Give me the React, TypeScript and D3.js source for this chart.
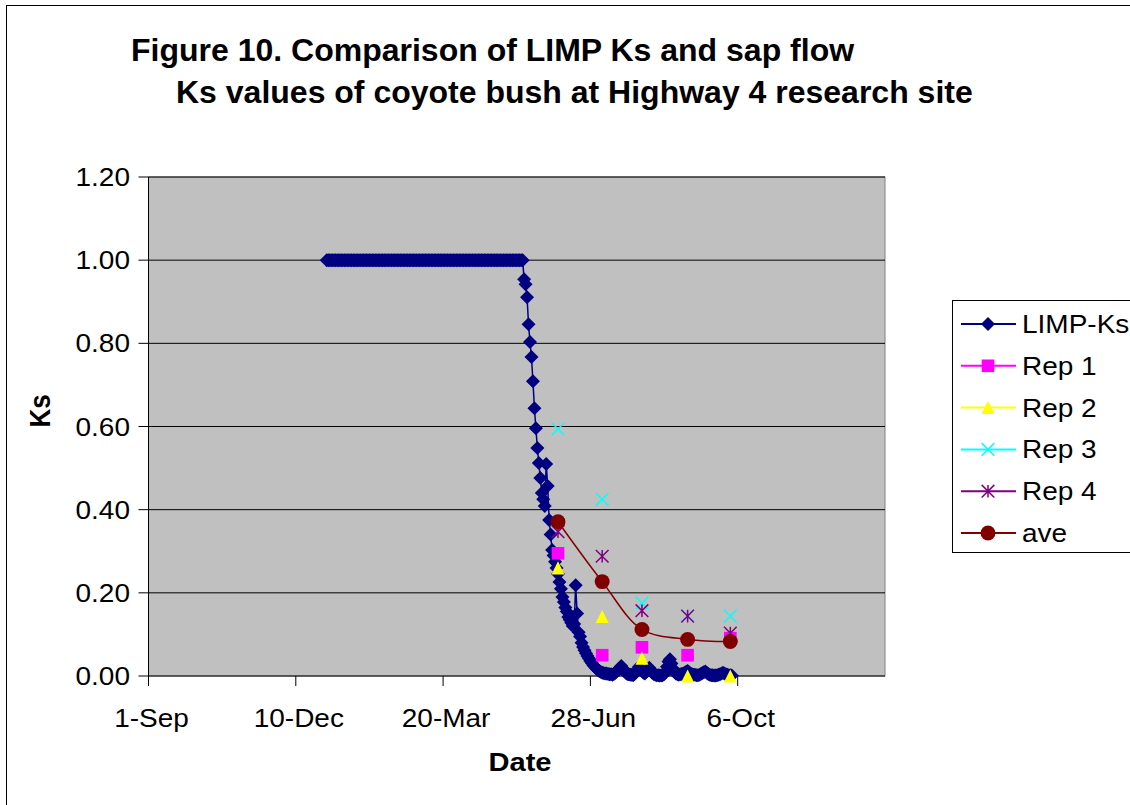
import * as d3 from 'd3'

const width = 1130
const height = 805
const plot = { left: 148.5, top: 177, right: 885, bottom: 676 }
const font = "Arial, 'Liberation Sans', sans-serif"
const stretch = 1.12 // the source image is a bit wider than it is tall

// x values are days counted from 1-Sep
const xTickDays = [0, 100, 200, 300, 400]
const xTickLabels = ['1-Sep', '10-Dec', '20-Mar', '28-Jun', '6-Oct']
const yTicks = [0, 0.2, 0.4, 0.6, 0.8, 1.0, 1.2]

// LIMP-Ks, one value per day starting at limpStartDay
const limpStartDay = 121
const limpKs = [
  1, 1, 1, 1, 1, 1, 1, 1, 1, 1, 1, 1, 1, 1, 1, 1, 1, 1, 1, 1,
  1, 1, 1, 1, 1, 1, 1, 1, 1, 1, 1, 1, 1, 1, 1, 1, 1, 1, 1, 1,
  1, 1, 1, 1, 1, 1, 1, 1, 1, 1, 1, 1, 1, 1, 1, 1, 1, 1, 1, 1,
  1, 1, 1, 1, 1, 1, 1, 1, 1, 1, 1, 1, 1, 1, 1, 1, 1, 1, 1, 1,
  1, 1, 1, 1, 1, 1, 1, 1, 1, 1, 1, 1, 1, 1, 1, 1, 1, 1, 1, 1,
  1, 1, 1, 1, 1, 1, 1, 1, 1, 1, 1, 1, 1, 1, 1, 1, 1, 1, 1, 1,
  1, 1, 1, 1, 1, 1, 1, 1, 1, 1, 1, 1, 1, 1,
  0.954, 0.942, 0.911, 0.846, 0.803, 0.767, 0.709, 0.644, 0.596, 0.548,
  0.512, 0.476, 0.44, 0.425, 0.409, 0.51, 0.457, 0.375, 0.34, 0.303,
  0.29, 0.275, 0.26, 0.245, 0.226, 0.21, 0.19, 0.178, 0.165, 0.155,
  0.142, 0.135, 0.128, 0.12, 0.125, 0.218, 0.15, 0.105, 0.095, 0.08,
  0.07, 0.062, 0.055, 0.048, 0.042, 0.036, 0.031, 0.026, 0.022, 0.018,
  0.015, 0.012, 0.01, 0.008, 0.007, 0.006,
  0.006, 0.005, 0.004, 0.004, 0.003, 0.005, 0.008, 0.012, 0.016, 0.02,
  0.024, 0.018, 0.012, 0.008, 0.005, 0.004, 0.003, 0.003, 0.002, 0.005,
  0.01, 0.016, 0.022, 0.018, 0.012, 0.008, 0.006, 0.01, 0.016, 0.02,
  0.014, 0.008, 0.005, 0.003, 0.002, 0.002, 0.001, 0.001, 0.002, 0.004,
  0.01, 0.022, 0.035, 0.04, 0.03, 0.018, 0.01, 0.006, 0.004, 0.003,
  0.004, 0.005, 0.006, 0.008, 0.01, 0.012, 0.009, 0.006, 0.004, 0.003,
  0.003, 0.002, 0.002, 0.003, 0.005, 0.007, 0.009, 0.011, 0.008, 0.005,
  0.003, 0.002, 0.002, 0.001, 0.001, 0.002, 0.003, 0.004, 0.006, 0.008,
  0.006, 0.004, 0.003, 0.002, 0.002, 0.001
]

// sap flow samples
const sampleDays = [278, 308, 335, 366, 395]
const rep1 = [0.295, 0.05, 0.069, 0.05, 0.091]
const rep2 = [0.26, 0.143, 0.043, 0.0, 0.0]
const rep3 = [0.594, 0.425, 0.175, 0.145, 0.144]
const rep4 = [0.347, 0.288, 0.157, 0.144, 0.103]
const ave = [0.371, 0.227, 0.112, 0.088, 0.083]

const legendNames = ['LIMP-Ks', 'Rep 1', 'Rep 2', 'Rep 3', 'Rep 4', 'ave']
const legendColors = ['#000080', '#FF00FF', '#FFFF00', '#00FFFF', '#800080', '#800000']

// excel style "star": an x with a vertical bar
const symbolStar = {
  draw(ctx: any, size: number) {
    const r = Math.sqrt(size) / 2
    ctx.moveTo(-r, -r); ctx.lineTo(r, r)
    ctx.moveTo(-r, r); ctx.lineTo(r, -r)
    ctx.moveTo(0, -r); ctx.lineTo(0, r)
  }
}
const symbolCross = {
  draw(ctx: any, size: number) {
    const r = Math.sqrt(size) / 2
    ctx.moveTo(-r, -r); ctx.lineTo(r, r)
    ctx.moveTo(-r, r); ctx.lineTo(r, -r)
  }
}
// triangle centred on its bounding box
const symbolTri = {
  draw(ctx: any, size: number) {
    const r = Math.sqrt(size) / 2
    ctx.moveTo(0, -r); ctx.lineTo(r, r); ctx.lineTo(-r, r); ctx.closePath()
  }
}

const diamondPath = d3.symbol().type(d3.symbolSquare).size(98)()!
const squarePath = d3.symbol().type(d3.symbolSquare).size(160)()!
const trianglePath = d3.symbol().type(symbolTri as any).size(170)()!
const crossPath = d3.symbol().type(symbolCross as any).size(160)()!
const starPath = d3.symbol().type(symbolStar as any).size(160)()!
const circlePath = d3.symbol().type(d3.symbolCircle).size(175)()!

function Marker({ kind, x, y }: { kind: number; x: number; y: number }) {
  const c = legendColors[kind]
  if (kind === 0) return <path d={diamondPath} transform={`translate(${x},${y}) rotate(45)`} fill={c} />
  if (kind === 1) return <path d={squarePath} transform={`translate(${x},${y})`} fill={c} />
  if (kind === 2) return <path d={trianglePath} transform={`translate(${x},${y})`} fill={c} />
  if (kind === 3) return <path d={crossPath} transform={`translate(${x},${y})`} fill="none" stroke={c} strokeWidth={1.5} />
  if (kind === 4) return <path d={starPath} transform={`translate(${x},${y})`} fill="none" stroke={c} strokeWidth={1.5} />
  return <path d={circlePath} transform={`translate(${x},${y})`} fill={c} />
}

function Label({ x, y, anchor = 'start', size = 25, bold = false, rotate = 0, children }: any) {
  return (
    <g transform={`translate(${x},${y}) scale(${stretch},1) rotate(${rotate})`}>
      <text textAnchor={anchor} fontSize={size} fontWeight={bold ? 'bold' : 'normal'}>{children}</text>
    </g>
  )
}

function App() {
  const xScale = d3.scaleLinear().domain([0, 500]).range([plot.left, plot.right])
  const yScale = d3.scaleLinear().domain([0, 1.2]).range([plot.bottom, plot.top])

  const limp = limpKs.map((v, i) => ({ day: limpStartDay + i, v }))
  const limpLine = d3.line<{ day: number; v: number }>()
    .x(d => xScale(d.day))
    .y(d => yScale(d.v))(limp)

  const aveLine = d3.line<number>()
    .x((_, i) => xScale(sampleDays[i]))
    .y(d => yScale(d))
    .curve(d3.curveCatmullRom.alpha(0.5))(ave)

  const reps = [rep1, rep2, rep3, rep4, ave]

  return (
    <svg width={width} height={height} style={{ position: 'absolute', left: 0, top: 0, background: '#fff' }} fontFamily={font}>
      <rect x={6.5} y={5.5} width={1200} height={900} fill="#fff" stroke="#000" />

      <text x={131} y={61} fontSize={32} fontWeight="bold">Figure 10. Comparison of LIMP Ks and sap flow</text>
      <text x={176} y={103} fontSize={32} fontWeight="bold">Ks values of coyote bush at Highway 4 research site</text>

      <rect x={plot.left} y={plot.top} width={plot.right - plot.left} height={plot.bottom - plot.top} fill="#C0C0C0" stroke="#808080" />

      {yTicks.map(t => (
        <g key={t}>
          {t > 0 && <line x1={plot.left} x2={plot.right} y1={yScale(t)} y2={yScale(t)} stroke="#000" />}
          <line x1={plot.left - 10} x2={plot.left} y1={yScale(t)} y2={yScale(t)} stroke="#000" />
          <Label x={130} y={yScale(t) + 9} anchor="end">{t.toFixed(2)}</Label>
        </g>
      ))}
      <line x1={plot.left} x2={plot.left} y1={plot.top} y2={plot.bottom} stroke="#000" />
      <line x1={plot.left} x2={plot.right} y1={plot.bottom} y2={plot.bottom} stroke="#000" />
      {xTickDays.map((d, i) => (
        <g key={d}>
          <line x1={xScale(d)} x2={xScale(d)} y1={plot.bottom} y2={plot.bottom + 10} stroke="#000" />
          <Label x={xScale(d) + 3} y={727} anchor="middle">{xTickLabels[i]}</Label>
        </g>
      ))}

      <Label x={520} y={771} anchor="middle" size={26} bold>Date</Label>
      <Label x={50} y={411} anchor="middle" size={26} bold rotate={-90}>Ks</Label>

      <path d={limpLine!} fill="none" stroke="#000080" strokeWidth={1.5} />
      {limp.map(d => <Marker key={d.day} kind={0} x={xScale(d.day)} y={yScale(d.v)} />)}

      <path d={aveLine!} fill="none" stroke="#800000" strokeWidth={1.5} />
      {reps.map((s, k) => s.map((v, i) => (
        <Marker key={`${k}-${i}`} kind={k + 1} x={xScale(sampleDays[i])} y={yScale(v)} />
      )))}

      <rect x={952.5} y={300.5} width={200} height={252} fill="#fff" stroke="#000" />
      {legendNames.map((n, i) => {
        const y = 324 + i * 41.8
        return (
          <g key={n}>
            <line x1={961} x2={1016} y1={y} y2={y} stroke={legendColors[i]} strokeWidth={2} />
            <Marker kind={i} x={988} y={y} />
            <Label x={1022} y={y + 9}>{n}</Label>
          </g>
        )
      })}
    </svg>
  )
}

export default App
